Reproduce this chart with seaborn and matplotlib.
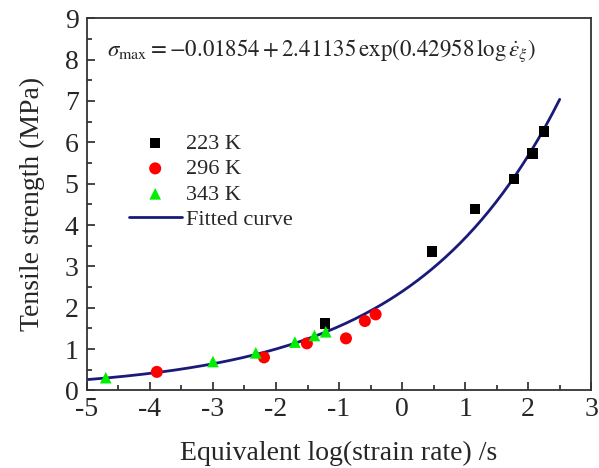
import numpy as np
import pandas as pd
import seaborn as sns
import matplotlib.pyplot as plt
import matplotlib.ticker as ticker

# data
x_223 = [-1.22, 0.47, 1.16, 1.78, 2.07, 2.25]
y_223 = [1.62, 3.36, 4.39, 5.12, 5.73, 6.26]
x_296 = [-3.89, -2.19, -1.51, -0.89, -0.59, -0.42]
y_296 = [0.45, 0.80, 1.14, 1.26, 1.68, 1.84]
x_343 = [-4.70, -3.00, -2.32, -1.70, -1.39, -1.21]
y_343 = [0.31, 0.70, 0.91, 1.17, 1.33, 1.42]

# fitted curve coefficients, as printed on the chart
fit_a = -0.01854
fit_b = 2.41135
fit_c = 0.42958
fit_range = (-5, 2.5)

sns.set_style("white")
plt.rcParams['font.family'] = ['Liberation Serif', 'DejaVu Serif']
plt.rcParams['mathtext.fontset'] = 'stix'
plt.rcParams['axes.unicode_minus'] = False

fig = plt.figure(figsize=(5.99, 4.68), dpi=100)
ax = fig.add_axes([0.145, 0.1656, 0.842, 0.7954])

df223 = pd.DataFrame({'x': x_223, 'y': y_223})
df296 = pd.DataFrame({'x': x_296, 'y': y_296})
df343 = pd.DataFrame({'x': x_343, 'y': y_343})
xf = np.linspace(fit_range[0], fit_range[1], 200)
dffit = pd.DataFrame({'x': xf, 'y': fit_a + fit_b * np.exp(fit_c * xf)})

sns.scatterplot(x='x', y='y', data=df223, ax=ax, marker='s', color='black',
                s=55, edgecolor='none', label='223 K', zorder=3)
sns.scatterplot(x='x', y='y', data=df296, ax=ax, marker='o', color='#ff0000',
                s=75, edgecolor='none', label='296 K', zorder=3)
sns.scatterplot(x='x', y='y', data=df343, ax=ax, marker='^', color='#00ee00',
                s=70, edgecolor='none', label='343 K', zorder=3)
sns.lineplot(x='x', y='y', data=dffit, ax=ax, color='#1a1a7a', lw=2,
             label='Fitted curve', zorder=2)

ax.set_xlim(-5, 3)
ax.set_ylim(0, 9)
ax.xaxis.set_major_locator(ticker.MultipleLocator(1))
ax.xaxis.set_minor_locator(ticker.MultipleLocator(0.5))
ax.yaxis.set_major_locator(ticker.MultipleLocator(1))
ax.yaxis.set_minor_locator(ticker.MultipleLocator(0.5))
ax.tick_params(which='major', direction='in', length=6, width=1.2,
               labelsize=20, bottom=True, left=True, pad=5)
ax.tick_params(axis='y', which='major', pad=6)
ax.tick_params(which='minor', direction='in', length=3.5, width=1.2,
               bottom=True, left=True)
for sp in ax.spines.values():
    sp.set_color('#333333')
    sp.set_linewidth(1.3)

ax.set_xlabel('Equivalent log(strain rate) /s', fontsize=20, labelpad=13)
ax.set_ylabel('Tensile strength (MPa)', fontsize=20, labelpad=14)

ax.text(0.04, 0.912,
        r'$\sigma_{\max}=-0.01854+2.41135\,\exp(0.42958\,\log\dot{\varepsilon}_{\xi})$',
        transform=ax.transAxes, fontsize=16.5, va='center')

ax.legend(loc='upper left', bbox_to_anchor=(0.065, 0.715), frameon=False,
          fontsize=16, handlelength=2.4, handletextpad=0.2, labelspacing=0.22,
          borderaxespad=0)

fig.savefig('out.png', dpi=100)
